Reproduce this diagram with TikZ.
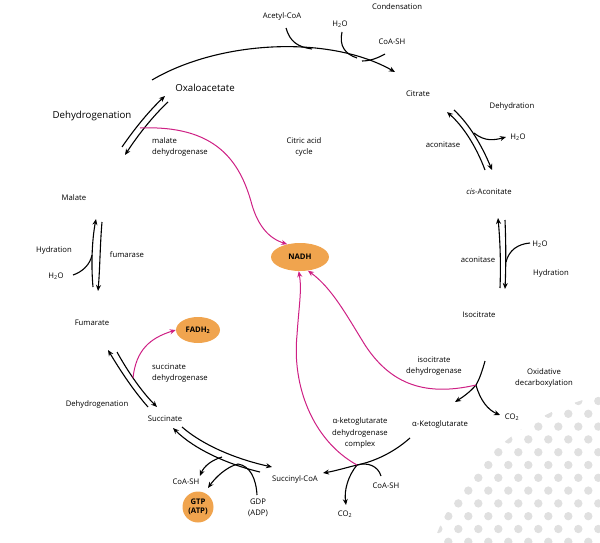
\documentclass[tikz,border=0pt]{standalone}
\usepackage{fontspec}
\setmainfont{Open Sans}
\usetikzlibrary{arrows.meta,shapes.geometric}
\definecolor{mypink}{RGB}{206,32,132}
\definecolor{myorange}{RGB}{240,164,78}
\definecolor{dotgray}{RGB}{224,224,224}
\tikzset{
  lbl/.style={font=\fontsize{7.7}{11.5}\selectfont, inner sep=0pt, align=center},
  biglbl/.style={font=\fontsize{9.7}{11}\selectfont, inner sep=0pt},
  ln/.style={line width=1.1pt},
  arr/.style={line width=1.1pt, -{Stealth[length=6pt,width=5pt]}},
  parr/.style={mypink, line width=1pt, -{Stealth[length=6pt,width=5pt]}},
  blob/.style={ellipse, fill=myorange, inner sep=0pt, font=\bfseries\fontsize{7.7}{9}\selectfont}
}
\begin{document}
\begin{tikzpicture}[x=1pt,y=-1pt]
\useasboundingbox (0,0) rectangle (600,543);
% background dots
\begin{scope}
\clip (0,0) rectangle (600,543);
\clip (650,620) circle (230);
\foreach \m in {-6,...,7}{
  \foreach \k in {-3,...,6}{
    \pgfmathsetmacro{\xx}{488.3+20*\k+10*mod(abs(\m),2)}
    \pgfmathsetmacro{\yy}{465+12.8*\m}
    \fill[dotgray] (\xx,\yy) circle (4.2);
  }
}
\end{scope}

% text nodes
\node[lbl] (acetyl) at (282,17) {Acetyl-CoA};
\node[lbl] (cond) at (397,7) {Condensation};
\node[lbl] (h2oA) at (340,24) {H\textsubscript{2}O};
\node[lbl] (coashA) at (392,42) {CoA-SH};
\node[lbl] (citrate) at (418,94) {Citrate};
\node[lbl] (dehydration) at (512,106) {Dehydration};
\node[lbl] (h2oB) at (518,137) {H\textsubscript{2}O};
\node[lbl] (acon1) at (443,145) {aconitase};
\node[lbl] (cisacon) at (489,192) {\textit{cis}-Aconitate};
\node[lbl] (h2oC) at (540,244) {H\textsubscript{2}O};
\node[lbl] (acon2) at (478,260) {aconitase};
\node[lbl] (hydR) at (551,273) {Hydration};
\node[lbl] (isocit) at (479,315) {Isocitrate};
\node[lbl] (idh) at (434,366) {isocitrate\\dehydrogenase};
\node[lbl] (oxdec) at (544,378) {Oxidative\\decarboxylation};
\node[lbl] (co2A) at (512,417) {CO\textsubscript{2}};
\node[lbl] (akg) at (440,424) {α-Ketoglutarate};
\node[lbl] (akgdh) at (360,433) {α-ketoglutarate\\dehydrogenase\\complex};
\node[lbl] (coashB) at (386,486) {CoA-SH};
\node[lbl] (co2B) at (345,514) {CO\textsubscript{2}};
\node[lbl] (succoa) at (295,479) {Succinyl-CoA};
\node[lbl] (gdp) at (258,508) {GDP\\(ADP)};
\node[lbl] (coashC) at (186,482) {CoA-SH};
\node[blob, circle, minimum size=31pt, align=center, font=\bfseries\fontsize{7.7}{9}\selectfont] (gtp) at (198,507) {GTP\\(ATP)};
\node[lbl] (succ) at (165,419) {Succinate};
\node[lbl] (dehydL) at (97,404) {Dehydrogenation};
\node[lbl, align=left] (sdh) at (180,373) {succinate\\dehydrogenase};
\node[blob, minimum width=44pt, minimum height=26pt] (fadh) at (198,330) {FADH\textsubscript{2}};
\node[lbl] (fumarate) at (92,323) {Fumarate};
\node[lbl] (h2oD) at (56,276) {H\textsubscript{2}O};
\node[lbl] (hydL) at (54,250) {Hydration};
\node[lbl] (fumarase) at (127,255) {fumarase};
\node[lbl] (malate) at (74,198) {Malate};
\node[lbl, align=left] (mdh) at (180,147) {malate\\dehydrogenase};
\node[biglbl] (dehydT) at (92,116) {Dehydrogenation};
\node[biglbl] (oxalo) at (205,88) {Oxaloacetate};
\node[lbl] (cac) at (304,147) {Citric acid\\cycle};
\node[blob, minimum width=58pt, minimum height=28pt] (nadh) at (300,257) {NADH};

% coordinates
\coordinate (topS) at (152,80);
\coordinate (topE) at (395,72);
\coordinate (jIDH) at (476,385);
\coordinate (jKG) at (357,465);
\coordinate (jMDH) at (140,128);
\coordinate (jSDH) at (133,378);

% top condensation arc
\draw[arr] (topS) .. controls (220,40) and (330,35) .. (topE);
\draw[ln] (286,28) .. controls (290,42) and (298,47) .. (312,49);
\draw[ln] (342,32) .. controls (339,46) and (345,54) .. (357,58);
\draw[ln] (362,61) .. controls (370,61) and (378,58) .. (385,54);

% aconitase 1
\draw[arr] (485,170) .. controls (476,146) and (463,126) .. (447,112);
\draw[arr] (454,110) .. controls (470,125) and (482,146) .. (492,170);
\draw[arr] (474,133) .. controls (485,142) and (495,140) .. (506,137);

% aconitase 2
\draw[arr] (500,288) .. controls (501,262) and (500,240) .. (498,218);
\draw[arr] (505,220) .. controls (506,244) and (506,266) .. (505,289);
\draw[ln] (506,262) .. controls (509,250) and (518,244) .. (530,243);

% isocitrate dehydrogenase
\draw[ln] (485,361) .. controls (482,372) and (479,380) .. (jIDH);
\draw[arr] (jIDH) .. controls (470,392) and (463,397) .. (455,402);
\draw[arr] (jIDH) .. controls (480,400) and (488,410) .. (500,415);
\draw[parr] (jIDH) .. controls (420,398) and (388,380) .. (365,345)
  .. controls (347,316) and (332,288) .. (nadh.-60);

% alpha-KG dehydrogenase
\draw[ln] (410,438) .. controls (392,454) and (372,462) .. (jKG);
\draw[arr] (jKG) .. controls (345,468) and (335,471) .. (323,473);
\draw[arr] (jKG) .. controls (348,476) and (344,490) .. (346,505);
\draw[ln] (381,476) .. controls (378,466) and (368,462) .. (jKG);
\draw[parr] (jKG) .. controls (312,440) and (292,385) .. (297,335)
  .. controls (299,305) and (302,290) .. (nadh.-95);

% succinyl-CoA synthetase
\draw[arr] (260,472) .. controls (230,465) and (195,450) .. (173,428);
\draw[arr] (182,427) .. controls (205,447) and (240,460) .. (272,467);
\draw[arr] (222,457) .. controls (212,460) and (204,466) .. (200,476);
\draw[arr] (257,495) .. controls (256,478) and (250,466) .. (238,464)
  .. controls (226,467) and (215,478) .. (208,488);

% succinate dehydrogenase
\draw[arr] (117,352) .. controls (128,372) and (142,392) .. (157,407);
\draw[arr] (148,407) .. controls (133,390) and (120,370) .. (108,350);
\draw[parr] (jSDH) .. controls (136,350) and (150,338) .. (fadh.west);

% fumarase
\draw[arr] (93,287) .. controls (91,265) and (92,240) .. (96,219);
\draw[arr] (102,222) .. controls (100,245) and (100,268) .. (98,291);
\draw[ln] (73,275) .. controls (82,272) and (90,265) .. (92,255);

% malate dehydrogenase
\draw[arr] (122,147) .. controls (135,128) and (150,110) .. (165,96);
\draw[arr] (168,102) .. controls (153,116) and (138,135) .. (125,155);
\draw[parr] (jMDH) .. controls (215,125) and (240,160) .. (252,205)
  .. controls (258,225) and (268,238) .. (nadh.135);
\end{tikzpicture}
\end{document}
